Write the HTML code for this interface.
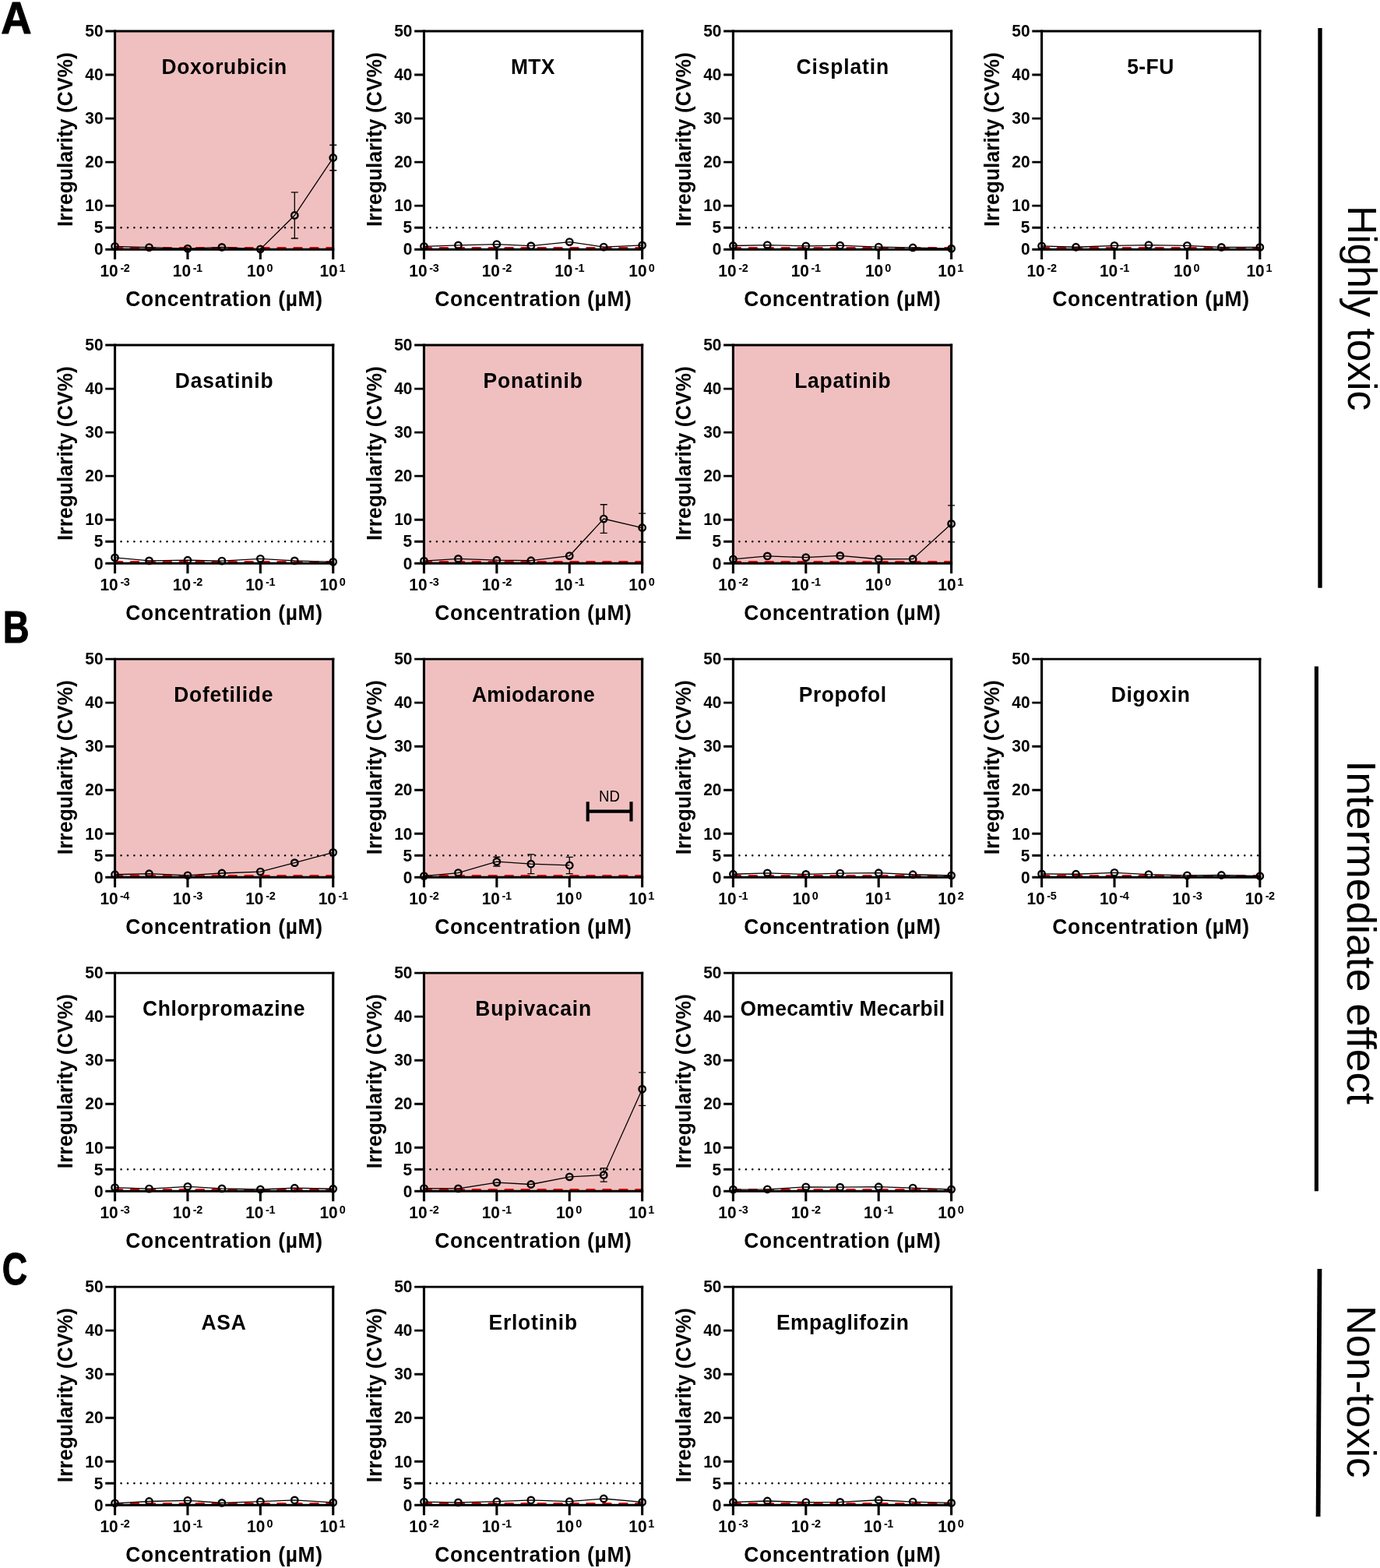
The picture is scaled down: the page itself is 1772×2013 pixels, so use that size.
<!DOCTYPE html>
<html lang="en"><head><meta charset="utf-8"><title>Irregularity (CV%) vs Concentration</title>
<style>
html,body{margin:0;padding:0;background:#fff;}
body{width:1772px;height:2013px;overflow:hidden;}
svg{display:block;}
text{font-family:"Liberation Sans", Arial, Helvetica, sans-serif;fill:#000;white-space:pre;}
.tk{font-weight:bold;font-size:22.3px;}
.sp{font-weight:bold;font-size:15.5px;}
.tt{font-weight:bold;font-size:28px;}
.nd{font-size:20px;}
.av{fill:none;stroke:#000;stroke-width:3.1;}
.ah{fill:none;stroke:#000;stroke-width:2.9;}
.ln{fill:none;stroke:#000;stroke-width:1.3;}
.mk{fill:none;stroke:#000;stroke-width:2.4;}
.dot{fill:none;stroke:#000;stroke-width:2.55;stroke-linecap:round;stroke-dasharray:0.01 8.41;}
.red{fill:none;stroke:#d90000;stroke-width:3;stroke-linecap:round;stroke-dasharray:9.66 11.29;}
.side{font-size:52px;}
.pl{font-weight:bold;font-size:58.2px;}
</style></head><body>
<svg xmlns="http://www.w3.org/2000/svg" width="1772" height="2013" viewBox="0 0 1772 2013">
<rect x="0" y="0" width="1772" height="2013" fill="#fff"/>
<g>
<rect x="147.55" y="40" width="280.2" height="280.2" fill="#f0c0c0"/>
<path class="dot" d="M147.15 292.18H427.75"/>
<path class="red" d="M147.2 318.4H427.75"/>
<path class="ah" d="M146 40H429.3M146 320.2H429.3M135.25 320.2H147.55M135.25 292.18H147.55M135.25 264.16H147.55M135.25 208.12H147.55M135.25 152.08H147.55M135.25 96.04H147.55M135.25 40H147.55"/>
<path class="av" d="M147.55 38.55V321.65M427.75 38.55V321.65M147.55 320.2V333.1M240.95 320.2V333.1M334.35 320.2V333.1M427.75 320.2V333.1"/>
<path class="ln" d="M147.55 316.33L191.51 317.57L240.95 319.14L284.91 317.4L334.35 319.86L378.31 276.49L427.75 202.52"/>
<path class="ln" d="M378.31 246.96V271.39M378.31 281.59V306.02M373.81 246.96H382.81M373.81 306.02H382.81M427.75 186.26V197.42M427.75 207.62V218.77M423.25 186.26H432.25M423.25 218.77H432.25"/>
<circle class="mk" cx="147.55" cy="316.33" r="4.2"/>
<circle class="mk" cx="191.51" cy="317.57" r="4.2"/>
<circle class="mk" cx="240.95" cy="319.14" r="4.2"/>
<circle class="mk" cx="284.91" cy="317.4" r="4.2"/>
<circle class="mk" cx="334.35" cy="319.86" r="4.2"/>
<circle class="mk" cx="378.31" cy="276.49" r="4.2"/>
<circle class="mk" cx="427.75" cy="202.52" r="4.2"/>
<text class="tk" transform="translate(120.92 327.45) scale(0.9386 1)">0</text>
<text class="tk" transform="translate(120.64 299.43) scale(0.9386 1)">5</text>
<text class="tk" transform="translate(109.28 271.41) scale(0.9386 1)">10</text>
<text class="tk" transform="translate(109.28 215.37) scale(0.9386 1)">20</text>
<text class="tk" transform="translate(109.28 159.33) scale(0.9386 1)">30</text>
<text class="tk" transform="translate(109.28 103.29) scale(0.9386 1)">40</text>
<text class="tk" transform="translate(109.28 47.25) scale(0.9386 1)">50</text>
<text class="tk" transform="translate(128.43 355.1) scale(0.9386 1)">10</text>
<text class="sp" transform="translate(154.46 349) scale(0.93 1)" letter-spacing="-0.43">-2</text>
<text class="tk" transform="translate(221.83 355.1) scale(0.9386 1)">10</text>
<text class="sp" transform="translate(247.68 349) scale(0.93 1)" letter-spacing="-0.43">-1</text>
<text class="tk" transform="translate(317.03 355.1) scale(0.9386 1)">10</text>
<text class="sp" transform="translate(342.38 349) scale(0.93 1)">0</text>
<text class="tk" transform="translate(410.43 355.1) scale(0.9386 1)">10</text>
<text class="sp" transform="translate(435.44 349) scale(0.93 1)">1</text>
<text class="tt" transform="translate(161.31 392.6) scale(0.943 1)" letter-spacing="0.73">Concentration (µM)</text>
<text class="tt" transform="translate(93.15 291.04) rotate(-90) scale(0.943 1)" letter-spacing="0.06">Irregularity (CV%)</text>
<text class="tt" transform="translate(207.48 94.75) scale(0.943 1)" letter-spacing="0.71">Doxorubicin</text>
</g>
<g>
<path class="dot" d="M544.05 292.18H824.65"/>
<path class="red" d="M544.1 318.4H824.65"/>
<path class="ah" d="M542.9 40H826.2M542.9 320.2H826.2M532.15 320.2H544.45M532.15 292.18H544.45M532.15 264.16H544.45M532.15 208.12H544.45M532.15 152.08H544.45M532.15 96.04H544.45M532.15 40H544.45"/>
<path class="av" d="M544.45 38.55V321.65M824.65 38.55V321.65M544.45 320.2V333.1M637.85 320.2V333.1M731.25 320.2V333.1M824.65 320.2V333.1"/>
<path class="ln" d="M544.45 316.33L588.41 314.93L637.85 313.53L681.81 315.66L731.25 310.56L775.21 317.06L824.65 314.93"/>
<circle class="mk" cx="544.45" cy="316.33" r="4.2"/>
<circle class="mk" cx="588.41" cy="314.93" r="4.2"/>
<circle class="mk" cx="637.85" cy="313.53" r="4.2"/>
<circle class="mk" cx="681.81" cy="315.66" r="4.2"/>
<circle class="mk" cx="731.25" cy="310.56" r="4.2"/>
<circle class="mk" cx="775.21" cy="317.06" r="4.2"/>
<circle class="mk" cx="824.65" cy="314.93" r="4.2"/>
<text class="tk" transform="translate(517.82 327.45) scale(0.9386 1)">0</text>
<text class="tk" transform="translate(517.54 299.43) scale(0.9386 1)">5</text>
<text class="tk" transform="translate(506.18 271.41) scale(0.9386 1)">10</text>
<text class="tk" transform="translate(506.18 215.37) scale(0.9386 1)">20</text>
<text class="tk" transform="translate(506.18 159.33) scale(0.9386 1)">30</text>
<text class="tk" transform="translate(506.18 103.29) scale(0.9386 1)">40</text>
<text class="tk" transform="translate(506.18 47.25) scale(0.9386 1)">50</text>
<text class="tk" transform="translate(525.33 355.1) scale(0.9386 1)">10</text>
<text class="sp" transform="translate(551.3 349) scale(0.93 1)" letter-spacing="-0.43">-3</text>
<text class="tk" transform="translate(618.73 355.1) scale(0.9386 1)">10</text>
<text class="sp" transform="translate(644.76 349) scale(0.93 1)" letter-spacing="-0.43">-2</text>
<text class="tk" transform="translate(712.13 355.1) scale(0.9386 1)">10</text>
<text class="sp" transform="translate(737.98 349) scale(0.93 1)" letter-spacing="-0.43">-1</text>
<text class="tk" transform="translate(807.33 355.1) scale(0.9386 1)">10</text>
<text class="sp" transform="translate(832.68 349) scale(0.93 1)">0</text>
<text class="tt" transform="translate(558.21 392.6) scale(0.943 1)" letter-spacing="0.73">Concentration (µM)</text>
<text class="tt" transform="translate(490.05 291.04) rotate(-90) scale(0.943 1)" letter-spacing="0.06">Irregularity (CV%)</text>
<text class="tt" transform="translate(655.88 94.75) scale(0.943 1)" letter-spacing="0.46">MTX</text>
</g>
<g>
<path class="dot" d="M941 292.18H1221.6"/>
<path class="red" d="M941.05 318.4H1221.6"/>
<path class="ah" d="M939.85 40H1223.15M939.85 320.2H1223.15M929.1 320.2H941.4M929.1 292.18H941.4M929.1 264.16H941.4M929.1 208.12H941.4M929.1 152.08H941.4M929.1 96.04H941.4M929.1 40H941.4"/>
<path class="av" d="M941.4 38.55V321.65M1221.6 38.55V321.65M941.4 320.2V333.1M1034.8 320.2V333.1M1128.2 320.2V333.1M1221.6 320.2V333.1"/>
<path class="ln" d="M941.4 315.49L985.36 314.6L1034.8 315.83L1078.76 315.16L1128.2 317.06L1172.16 317.96L1221.6 319.14"/>
<circle class="mk" cx="941.4" cy="315.49" r="4.2"/>
<circle class="mk" cx="985.36" cy="314.6" r="4.2"/>
<circle class="mk" cx="1034.8" cy="315.83" r="4.2"/>
<circle class="mk" cx="1078.76" cy="315.16" r="4.2"/>
<circle class="mk" cx="1128.2" cy="317.06" r="4.2"/>
<circle class="mk" cx="1172.16" cy="317.96" r="4.2"/>
<circle class="mk" cx="1221.6" cy="319.14" r="4.2"/>
<text class="tk" transform="translate(914.77 327.45) scale(0.9386 1)">0</text>
<text class="tk" transform="translate(914.49 299.43) scale(0.9386 1)">5</text>
<text class="tk" transform="translate(903.13 271.41) scale(0.9386 1)">10</text>
<text class="tk" transform="translate(903.13 215.37) scale(0.9386 1)">20</text>
<text class="tk" transform="translate(903.13 159.33) scale(0.9386 1)">30</text>
<text class="tk" transform="translate(903.13 103.29) scale(0.9386 1)">40</text>
<text class="tk" transform="translate(903.13 47.25) scale(0.9386 1)">50</text>
<text class="tk" transform="translate(922.28 355.1) scale(0.9386 1)">10</text>
<text class="sp" transform="translate(948.31 349) scale(0.93 1)" letter-spacing="-0.43">-2</text>
<text class="tk" transform="translate(1015.68 355.1) scale(0.9386 1)">10</text>
<text class="sp" transform="translate(1041.53 349) scale(0.93 1)" letter-spacing="-0.43">-1</text>
<text class="tk" transform="translate(1110.88 355.1) scale(0.9386 1)">10</text>
<text class="sp" transform="translate(1136.23 349) scale(0.93 1)">0</text>
<text class="tk" transform="translate(1204.28 355.1) scale(0.9386 1)">10</text>
<text class="sp" transform="translate(1229.29 349) scale(0.93 1)">1</text>
<text class="tt" transform="translate(955.16 392.6) scale(0.943 1)" letter-spacing="0.73">Concentration (µM)</text>
<text class="tt" transform="translate(887 291.04) rotate(-90) scale(0.943 1)" letter-spacing="0.06">Irregularity (CV%)</text>
<text class="tt" transform="translate(1022.57 94.75) scale(0.943 1)" letter-spacing="0.93">Cisplatin</text>
</g>
<g>
<path class="dot" d="M1337.2 292.18H1617.8"/>
<path class="red" d="M1337.25 318.4H1617.8"/>
<path class="ah" d="M1336.05 40H1619.35M1336.05 320.2H1619.35M1325.3 320.2H1337.6M1325.3 292.18H1337.6M1325.3 264.16H1337.6M1325.3 208.12H1337.6M1325.3 152.08H1337.6M1325.3 96.04H1337.6M1325.3 40H1337.6"/>
<path class="av" d="M1337.6 38.55V321.65M1617.8 38.55V321.65M1337.6 320.2V333.1M1431 320.2V333.1M1524.4 320.2V333.1M1617.8 320.2V333.1"/>
<path class="ln" d="M1337.6 315.83L1381.56 317.23L1431 315.3L1474.96 314.6L1524.4 315.3L1568.36 317.4L1617.8 317.4"/>
<circle class="mk" cx="1337.6" cy="315.83" r="4.2"/>
<circle class="mk" cx="1381.56" cy="317.23" r="4.2"/>
<circle class="mk" cx="1431" cy="315.3" r="4.2"/>
<circle class="mk" cx="1474.96" cy="314.6" r="4.2"/>
<circle class="mk" cx="1524.4" cy="315.3" r="4.2"/>
<circle class="mk" cx="1568.36" cy="317.4" r="4.2"/>
<circle class="mk" cx="1617.8" cy="317.4" r="4.2"/>
<text class="tk" transform="translate(1310.97 327.45) scale(0.9386 1)">0</text>
<text class="tk" transform="translate(1310.69 299.43) scale(0.9386 1)">5</text>
<text class="tk" transform="translate(1299.33 271.41) scale(0.9386 1)">10</text>
<text class="tk" transform="translate(1299.33 215.37) scale(0.9386 1)">20</text>
<text class="tk" transform="translate(1299.33 159.33) scale(0.9386 1)">30</text>
<text class="tk" transform="translate(1299.33 103.29) scale(0.9386 1)">40</text>
<text class="tk" transform="translate(1299.33 47.25) scale(0.9386 1)">50</text>
<text class="tk" transform="translate(1318.48 355.1) scale(0.9386 1)">10</text>
<text class="sp" transform="translate(1344.51 349) scale(0.93 1)" letter-spacing="-0.43">-2</text>
<text class="tk" transform="translate(1411.88 355.1) scale(0.9386 1)">10</text>
<text class="sp" transform="translate(1437.73 349) scale(0.93 1)" letter-spacing="-0.43">-1</text>
<text class="tk" transform="translate(1507.08 355.1) scale(0.9386 1)">10</text>
<text class="sp" transform="translate(1532.43 349) scale(0.93 1)">0</text>
<text class="tk" transform="translate(1600.48 355.1) scale(0.9386 1)">10</text>
<text class="sp" transform="translate(1625.49 349) scale(0.93 1)">1</text>
<text class="tt" transform="translate(1351.36 392.6) scale(0.943 1)" letter-spacing="0.73">Concentration (µM)</text>
<text class="tt" transform="translate(1283.2 291.04) rotate(-90) scale(0.943 1)" letter-spacing="0.06">Irregularity (CV%)</text>
<text class="tt" transform="translate(1447.14 94.75) scale(0.943 1)" letter-spacing="0.51">5-FU</text>
</g>
<g>
<path class="dot" d="M147.15 695.23H427.75"/>
<path class="red" d="M147.2 721.45H427.75"/>
<path class="ah" d="M146 443.05H429.3M146 723.25H429.3M135.25 723.25H147.55M135.25 695.23H147.55M135.25 667.21H147.55M135.25 611.17H147.55M135.25 555.13H147.55M135.25 499.09H147.55M135.25 443.05H147.55"/>
<path class="av" d="M147.55 441.6V724.7M427.75 441.6V724.7M147.55 723.25V736.15M240.95 723.25V736.15M334.35 723.25V736.15M427.75 723.25V736.15"/>
<path class="ln" d="M147.55 715.91L191.51 719.89L240.95 719.22L284.91 720.11L334.35 717.31L378.31 719.89L427.75 721.34"/>
<circle class="mk" cx="147.55" cy="715.91" r="4.2"/>
<circle class="mk" cx="191.51" cy="719.89" r="4.2"/>
<circle class="mk" cx="240.95" cy="719.22" r="4.2"/>
<circle class="mk" cx="284.91" cy="720.11" r="4.2"/>
<circle class="mk" cx="334.35" cy="717.31" r="4.2"/>
<circle class="mk" cx="378.31" cy="719.89" r="4.2"/>
<circle class="mk" cx="427.75" cy="721.34" r="4.2"/>
<text class="tk" transform="translate(120.92 730.5) scale(0.9386 1)">0</text>
<text class="tk" transform="translate(120.64 702.48) scale(0.9386 1)">5</text>
<text class="tk" transform="translate(109.28 674.46) scale(0.9386 1)">10</text>
<text class="tk" transform="translate(109.28 618.42) scale(0.9386 1)">20</text>
<text class="tk" transform="translate(109.28 562.38) scale(0.9386 1)">30</text>
<text class="tk" transform="translate(109.28 506.34) scale(0.9386 1)">40</text>
<text class="tk" transform="translate(109.28 450.3) scale(0.9386 1)">50</text>
<text class="tk" transform="translate(128.43 758.15) scale(0.9386 1)">10</text>
<text class="sp" transform="translate(154.4 752.05) scale(0.93 1)" letter-spacing="-0.43">-3</text>
<text class="tk" transform="translate(221.83 758.15) scale(0.9386 1)">10</text>
<text class="sp" transform="translate(247.86 752.05) scale(0.93 1)" letter-spacing="-0.43">-2</text>
<text class="tk" transform="translate(315.23 758.15) scale(0.9386 1)">10</text>
<text class="sp" transform="translate(341.08 752.05) scale(0.93 1)" letter-spacing="-0.43">-1</text>
<text class="tk" transform="translate(410.43 758.15) scale(0.9386 1)">10</text>
<text class="sp" transform="translate(435.78 752.05) scale(0.93 1)">0</text>
<text class="tt" transform="translate(161.31 795.65) scale(0.943 1)" letter-spacing="0.73">Concentration (µM)</text>
<text class="tt" transform="translate(93.15 694.09) rotate(-90) scale(0.943 1)" letter-spacing="0.06">Irregularity (CV%)</text>
<text class="tt" transform="translate(224.78 497.8) scale(0.943 1)" letter-spacing="0.92">Dasatinib</text>
</g>
<g>
<rect x="544.45" y="443.05" width="280.2" height="280.2" fill="#f0c0c0"/>
<path class="dot" d="M544.05 695.23H824.65"/>
<path class="red" d="M544.1 721.45H824.65"/>
<path class="ah" d="M542.9 443.05H826.2M542.9 723.25H826.2M532.15 723.25H544.45M532.15 695.23H544.45M532.15 667.21H544.45M532.15 611.17H544.45M532.15 555.13H544.45M532.15 499.09H544.45M532.15 443.05H544.45"/>
<path class="av" d="M544.45 441.6V724.7M824.65 441.6V724.7M544.45 723.25V736.15M637.85 723.25V736.15M731.25 723.25V736.15M824.65 723.25V736.15"/>
<path class="ln" d="M544.45 720.06L588.41 717.42L637.85 719.16L681.81 719.72L731.25 713.56L775.21 666.09L824.65 677.52"/>
<path class="ln" d="M775.21 647.76V660.99M775.21 671.19V684.41M770.71 647.76H779.71M770.71 684.41H779.71M824.65 659.03V672.42M824.65 682.62V696.01M820.15 659.03H829.15M820.15 696.01H829.15"/>
<circle class="mk" cx="544.45" cy="720.06" r="4.2"/>
<circle class="mk" cx="588.41" cy="717.42" r="4.2"/>
<circle class="mk" cx="637.85" cy="719.16" r="4.2"/>
<circle class="mk" cx="681.81" cy="719.72" r="4.2"/>
<circle class="mk" cx="731.25" cy="713.56" r="4.2"/>
<circle class="mk" cx="775.21" cy="666.09" r="4.2"/>
<circle class="mk" cx="824.65" cy="677.52" r="4.2"/>
<text class="tk" transform="translate(517.82 730.5) scale(0.9386 1)">0</text>
<text class="tk" transform="translate(517.54 702.48) scale(0.9386 1)">5</text>
<text class="tk" transform="translate(506.18 674.46) scale(0.9386 1)">10</text>
<text class="tk" transform="translate(506.18 618.42) scale(0.9386 1)">20</text>
<text class="tk" transform="translate(506.18 562.38) scale(0.9386 1)">30</text>
<text class="tk" transform="translate(506.18 506.34) scale(0.9386 1)">40</text>
<text class="tk" transform="translate(506.18 450.3) scale(0.9386 1)">50</text>
<text class="tk" transform="translate(525.33 758.15) scale(0.9386 1)">10</text>
<text class="sp" transform="translate(551.3 752.05) scale(0.93 1)" letter-spacing="-0.43">-3</text>
<text class="tk" transform="translate(618.73 758.15) scale(0.9386 1)">10</text>
<text class="sp" transform="translate(644.76 752.05) scale(0.93 1)" letter-spacing="-0.43">-2</text>
<text class="tk" transform="translate(712.13 758.15) scale(0.9386 1)">10</text>
<text class="sp" transform="translate(737.98 752.05) scale(0.93 1)" letter-spacing="-0.43">-1</text>
<text class="tk" transform="translate(807.33 758.15) scale(0.9386 1)">10</text>
<text class="sp" transform="translate(832.68 752.05) scale(0.93 1)">0</text>
<text class="tt" transform="translate(558.21 795.65) scale(0.943 1)" letter-spacing="0.73">Concentration (µM)</text>
<text class="tt" transform="translate(490.05 694.09) rotate(-90) scale(0.943 1)" letter-spacing="0.06">Irregularity (CV%)</text>
<text class="tt" transform="translate(620.58 497.8) scale(0.943 1)" letter-spacing="0.92">Ponatinib</text>
</g>
<g>
<rect x="941.4" y="443.05" width="280.2" height="280.2" fill="#f0c0c0"/>
<path class="dot" d="M941 695.23H1221.6"/>
<path class="red" d="M941.05 721.45H1221.6"/>
<path class="ah" d="M939.85 443.05H1223.15M939.85 723.25H1223.15M929.1 723.25H941.4M929.1 695.23H941.4M929.1 667.21H941.4M929.1 611.17H941.4M929.1 555.13H941.4M929.1 499.09H941.4M929.1 443.05H941.4"/>
<path class="av" d="M941.4 441.6V724.7M1221.6 441.6V724.7M941.4 723.25V736.15M1034.8 723.25V736.15M1128.2 723.25V736.15M1221.6 723.25V736.15"/>
<path class="ln" d="M941.4 717.93L985.36 713.89L1034.8 715.68L1078.76 713.39L1128.2 717.76L1172.16 717.65L1221.6 672.42"/>
<path class="ln" d="M1221.6 648.88V667.32M1221.6 677.52V695.96M1217.1 648.88H1226.1M1217.1 695.96H1226.1"/>
<circle class="mk" cx="941.4" cy="717.93" r="4.2"/>
<circle class="mk" cx="985.36" cy="713.89" r="4.2"/>
<circle class="mk" cx="1034.8" cy="715.68" r="4.2"/>
<circle class="mk" cx="1078.76" cy="713.39" r="4.2"/>
<circle class="mk" cx="1128.2" cy="717.76" r="4.2"/>
<circle class="mk" cx="1172.16" cy="717.65" r="4.2"/>
<circle class="mk" cx="1221.6" cy="672.42" r="4.2"/>
<text class="tk" transform="translate(914.77 730.5) scale(0.9386 1)">0</text>
<text class="tk" transform="translate(914.49 702.48) scale(0.9386 1)">5</text>
<text class="tk" transform="translate(903.13 674.46) scale(0.9386 1)">10</text>
<text class="tk" transform="translate(903.13 618.42) scale(0.9386 1)">20</text>
<text class="tk" transform="translate(903.13 562.38) scale(0.9386 1)">30</text>
<text class="tk" transform="translate(903.13 506.34) scale(0.9386 1)">40</text>
<text class="tk" transform="translate(903.13 450.3) scale(0.9386 1)">50</text>
<text class="tk" transform="translate(922.28 758.15) scale(0.9386 1)">10</text>
<text class="sp" transform="translate(948.31 752.05) scale(0.93 1)" letter-spacing="-0.43">-2</text>
<text class="tk" transform="translate(1015.68 758.15) scale(0.9386 1)">10</text>
<text class="sp" transform="translate(1041.53 752.05) scale(0.93 1)" letter-spacing="-0.43">-1</text>
<text class="tk" transform="translate(1110.88 758.15) scale(0.9386 1)">10</text>
<text class="sp" transform="translate(1136.23 752.05) scale(0.93 1)">0</text>
<text class="tk" transform="translate(1204.28 758.15) scale(0.9386 1)">10</text>
<text class="sp" transform="translate(1229.29 752.05) scale(0.93 1)">1</text>
<text class="tt" transform="translate(955.16 795.65) scale(0.943 1)" letter-spacing="0.73">Concentration (µM)</text>
<text class="tt" transform="translate(887 694.09) rotate(-90) scale(0.943 1)" letter-spacing="0.06">Irregularity (CV%)</text>
<text class="tt" transform="translate(1020.18 497.8) scale(0.943 1)" letter-spacing="0.81">Lapatinib</text>
</g>
<g>
<rect x="147.55" y="846.1" width="280.2" height="280.2" fill="#f0c0c0"/>
<path class="dot" d="M147.15 1098.28H427.75"/>
<path class="red" d="M147.2 1124.5H427.75"/>
<path class="ah" d="M146 846.1H429.3M146 1126.3H429.3M135.25 1126.3H147.55M135.25 1098.28H147.55M135.25 1070.26H147.55M135.25 1014.22H147.55M135.25 958.18H147.55M135.25 902.14H147.55M135.25 846.1H147.55"/>
<path class="av" d="M147.55 844.65V1127.75M427.75 844.65V1127.75M147.55 1126.3V1139.2M240.95 1126.3V1139.2M334.35 1126.3V1139.2M427.75 1126.3V1139.2"/>
<path class="ln" d="M147.55 1122.77L191.51 1121.7L240.95 1123.78L284.91 1120.98L334.35 1119.07L378.31 1107.69L427.75 1094.36"/>
<circle class="mk" cx="147.55" cy="1122.77" r="4.2"/>
<circle class="mk" cx="191.51" cy="1121.7" r="4.2"/>
<circle class="mk" cx="240.95" cy="1123.78" r="4.2"/>
<circle class="mk" cx="284.91" cy="1120.98" r="4.2"/>
<circle class="mk" cx="334.35" cy="1119.07" r="4.2"/>
<circle class="mk" cx="378.31" cy="1107.69" r="4.2"/>
<circle class="mk" cx="427.75" cy="1094.36" r="4.2"/>
<text class="tk" transform="translate(120.92 1133.55) scale(0.9386 1)">0</text>
<text class="tk" transform="translate(120.64 1105.53) scale(0.9386 1)">5</text>
<text class="tk" transform="translate(109.28 1077.51) scale(0.9386 1)">10</text>
<text class="tk" transform="translate(109.28 1021.47) scale(0.9386 1)">20</text>
<text class="tk" transform="translate(109.28 965.43) scale(0.9386 1)">30</text>
<text class="tk" transform="translate(109.28 909.39) scale(0.9386 1)">40</text>
<text class="tk" transform="translate(109.28 853.35) scale(0.9386 1)">50</text>
<text class="tk" transform="translate(128.43 1161.2) scale(0.9386 1)">10</text>
<text class="sp" transform="translate(153.96 1155.1) scale(0.93 1)" letter-spacing="-0.43">-4</text>
<text class="tk" transform="translate(221.83 1161.2) scale(0.9386 1)">10</text>
<text class="sp" transform="translate(247.8 1155.1) scale(0.93 1)" letter-spacing="-0.43">-3</text>
<text class="tk" transform="translate(315.23 1161.2) scale(0.9386 1)">10</text>
<text class="sp" transform="translate(341.26 1155.1) scale(0.93 1)" letter-spacing="-0.43">-2</text>
<text class="tk" transform="translate(408.63 1161.2) scale(0.9386 1)">10</text>
<text class="sp" transform="translate(434.48 1155.1) scale(0.93 1)" letter-spacing="-0.43">-1</text>
<text class="tt" transform="translate(161.31 1198.7) scale(0.943 1)" letter-spacing="0.73">Concentration (µM)</text>
<text class="tt" transform="translate(93.15 1097.14) rotate(-90) scale(0.943 1)" letter-spacing="0.06">Irregularity (CV%)</text>
<text class="tt" transform="translate(223.28 900.85) scale(0.943 1)" letter-spacing="0.8">Dofetilide</text>
</g>
<g>
<rect x="544.45" y="846.1" width="280.2" height="280.2" fill="#f0c0c0"/>
<path class="dot" d="M544.05 1098.28H824.65"/>
<path class="red" d="M544.1 1124.5H824.65"/>
<path class="ah" d="M542.9 846.1H826.2M542.9 1126.3H826.2M532.15 1126.3H544.45M532.15 1098.28H544.45M532.15 1070.26H544.45M532.15 1014.22H544.45M532.15 958.18H544.45M532.15 902.14H544.45M532.15 846.1H544.45"/>
<path class="av" d="M544.45 844.65V1127.75M824.65 844.65V1127.75M544.45 1126.3V1139.2M637.85 1126.3V1139.2M731.25 1126.3V1139.2M824.65 1126.3V1139.2"/>
<path class="ln" d="M544.45 1124.62L588.41 1120.58L637.85 1106.13L681.81 1109.21L731.25 1110.95"/>
<path class="ln" d="M637.85 1100.24V1101.03M637.85 1111.23V1112.01M633.35 1100.24H642.35M633.35 1112.01H642.35M681.81 1096.88V1104.11M681.81 1114.31V1121.54M677.31 1096.88H686.31M677.31 1121.54H686.31M731.25 1100.3V1105.85M731.25 1116.05V1121.59M726.75 1100.3H735.75M726.75 1121.59H735.75"/>
<circle class="mk" cx="544.45" cy="1124.62" r="4.2"/>
<circle class="mk" cx="588.41" cy="1120.58" r="4.2"/>
<circle class="mk" cx="637.85" cy="1106.13" r="4.2"/>
<circle class="mk" cx="681.81" cy="1109.21" r="4.2"/>
<circle class="mk" cx="731.25" cy="1110.95" r="4.2"/>
<text class="tk" transform="translate(517.82 1133.55) scale(0.9386 1)">0</text>
<text class="tk" transform="translate(517.54 1105.53) scale(0.9386 1)">5</text>
<text class="tk" transform="translate(506.18 1077.51) scale(0.9386 1)">10</text>
<text class="tk" transform="translate(506.18 1021.47) scale(0.9386 1)">20</text>
<text class="tk" transform="translate(506.18 965.43) scale(0.9386 1)">30</text>
<text class="tk" transform="translate(506.18 909.39) scale(0.9386 1)">40</text>
<text class="tk" transform="translate(506.18 853.35) scale(0.9386 1)">50</text>
<text class="tk" transform="translate(525.33 1161.2) scale(0.9386 1)">10</text>
<text class="sp" transform="translate(551.36 1155.1) scale(0.93 1)" letter-spacing="-0.43">-2</text>
<text class="tk" transform="translate(618.73 1161.2) scale(0.9386 1)">10</text>
<text class="sp" transform="translate(644.58 1155.1) scale(0.93 1)" letter-spacing="-0.43">-1</text>
<text class="tk" transform="translate(713.93 1161.2) scale(0.9386 1)">10</text>
<text class="sp" transform="translate(739.28 1155.1) scale(0.93 1)">0</text>
<text class="tk" transform="translate(807.33 1161.2) scale(0.9386 1)">10</text>
<text class="sp" transform="translate(832.34 1155.1) scale(0.93 1)">1</text>
<text class="tt" transform="translate(558.21 1198.7) scale(0.943 1)" letter-spacing="0.73">Concentration (µM)</text>
<text class="tt" transform="translate(490.05 1097.14) rotate(-90) scale(0.943 1)" letter-spacing="0.06">Irregularity (CV%)</text>
<text class="tt" transform="translate(605.89 900.85) scale(0.943 1)" letter-spacing="0.44">Amiodarone</text>
<path d="M754.7 1041.65H810.5M754.7 1029.15V1054.55M810.5 1029.15V1054.55" fill="none" stroke="#000" stroke-width="4.1"/>
<text class="nd" transform="translate(768.9 1029.4) scale(0.93 1)" letter-spacing="0.32">ND</text>
</g>
<g>
<path class="dot" d="M941 1098.28H1221.6"/>
<path class="red" d="M941.05 1124.5H1221.6"/>
<path class="ah" d="M939.85 846.1H1223.15M939.85 1126.3H1223.15M929.1 1126.3H941.4M929.1 1098.28H941.4M929.1 1070.26H941.4M929.1 1014.22H941.4M929.1 958.18H941.4M929.1 902.14H941.4M929.1 846.1H941.4"/>
<path class="av" d="M941.4 844.65V1127.75M1221.6 844.65V1127.75M941.4 1126.3V1139.2M1034.8 1126.3V1139.2M1128.2 1126.3V1139.2M1221.6 1126.3V1139.2"/>
<path class="ln" d="M941.4 1122.27L985.36 1120.86L1034.8 1122.43L1078.76 1121.03L1128.2 1120.7L1172.16 1122.77L1221.6 1124"/>
<circle class="mk" cx="941.4" cy="1122.27" r="4.2"/>
<circle class="mk" cx="985.36" cy="1120.86" r="4.2"/>
<circle class="mk" cx="1034.8" cy="1122.43" r="4.2"/>
<circle class="mk" cx="1078.76" cy="1121.03" r="4.2"/>
<circle class="mk" cx="1128.2" cy="1120.7" r="4.2"/>
<circle class="mk" cx="1172.16" cy="1122.77" r="4.2"/>
<circle class="mk" cx="1221.6" cy="1124" r="4.2"/>
<text class="tk" transform="translate(914.77 1133.55) scale(0.9386 1)">0</text>
<text class="tk" transform="translate(914.49 1105.53) scale(0.9386 1)">5</text>
<text class="tk" transform="translate(903.13 1077.51) scale(0.9386 1)">10</text>
<text class="tk" transform="translate(903.13 1021.47) scale(0.9386 1)">20</text>
<text class="tk" transform="translate(903.13 965.43) scale(0.9386 1)">30</text>
<text class="tk" transform="translate(903.13 909.39) scale(0.9386 1)">40</text>
<text class="tk" transform="translate(903.13 853.35) scale(0.9386 1)">50</text>
<text class="tk" transform="translate(922.28 1161.2) scale(0.9386 1)">10</text>
<text class="sp" transform="translate(948.13 1155.1) scale(0.93 1)" letter-spacing="-0.43">-1</text>
<text class="tk" transform="translate(1017.48 1161.2) scale(0.9386 1)">10</text>
<text class="sp" transform="translate(1042.83 1155.1) scale(0.93 1)">0</text>
<text class="tk" transform="translate(1110.88 1161.2) scale(0.9386 1)">10</text>
<text class="sp" transform="translate(1135.89 1155.1) scale(0.93 1)">1</text>
<text class="tk" transform="translate(1204.28 1161.2) scale(0.9386 1)">10</text>
<text class="sp" transform="translate(1229.7 1155.1) scale(0.93 1)">2</text>
<text class="tt" transform="translate(955.16 1198.7) scale(0.943 1)" letter-spacing="0.73">Concentration (µM)</text>
<text class="tt" transform="translate(887 1097.14) rotate(-90) scale(0.943 1)" letter-spacing="0.06">Irregularity (CV%)</text>
<text class="tt" transform="translate(1025.78 900.85) scale(0.943 1)" letter-spacing="0.58">Propofol</text>
</g>
<g>
<path class="dot" d="M1337.2 1098.28H1617.8"/>
<path class="red" d="M1337.25 1124.5H1617.8"/>
<path class="ah" d="M1336.05 846.1H1619.35M1336.05 1126.3H1619.35M1325.3 1126.3H1337.6M1325.3 1098.28H1337.6M1325.3 1070.26H1337.6M1325.3 1014.22H1337.6M1325.3 958.18H1337.6M1325.3 902.14H1337.6M1325.3 846.1H1337.6"/>
<path class="av" d="M1337.6 844.65V1127.75M1617.8 844.65V1127.75M1337.6 1126.3V1139.2M1431 1126.3V1139.2M1524.4 1126.3V1139.2M1617.8 1126.3V1139.2"/>
<path class="ln" d="M1337.6 1121.93L1381.56 1122.27L1431 1120.36L1474.96 1122.6L1524.4 1123.83L1568.36 1123.5L1617.8 1124.73"/>
<circle class="mk" cx="1337.6" cy="1121.93" r="4.2"/>
<circle class="mk" cx="1381.56" cy="1122.27" r="4.2"/>
<circle class="mk" cx="1431" cy="1120.36" r="4.2"/>
<circle class="mk" cx="1474.96" cy="1122.6" r="4.2"/>
<circle class="mk" cx="1524.4" cy="1123.83" r="4.2"/>
<circle class="mk" cx="1568.36" cy="1123.5" r="4.2"/>
<circle class="mk" cx="1617.8" cy="1124.73" r="4.2"/>
<text class="tk" transform="translate(1310.97 1133.55) scale(0.9386 1)">0</text>
<text class="tk" transform="translate(1310.69 1105.53) scale(0.9386 1)">5</text>
<text class="tk" transform="translate(1299.33 1077.51) scale(0.9386 1)">10</text>
<text class="tk" transform="translate(1299.33 1021.47) scale(0.9386 1)">20</text>
<text class="tk" transform="translate(1299.33 965.43) scale(0.9386 1)">30</text>
<text class="tk" transform="translate(1299.33 909.39) scale(0.9386 1)">40</text>
<text class="tk" transform="translate(1299.33 853.35) scale(0.9386 1)">50</text>
<text class="tk" transform="translate(1318.48 1161.2) scale(0.9386 1)">10</text>
<text class="sp" transform="translate(1344.33 1155.1) scale(0.93 1)" letter-spacing="-0.43">-5</text>
<text class="tk" transform="translate(1411.88 1161.2) scale(0.9386 1)">10</text>
<text class="sp" transform="translate(1437.41 1155.1) scale(0.93 1)" letter-spacing="-0.43">-4</text>
<text class="tk" transform="translate(1505.28 1161.2) scale(0.9386 1)">10</text>
<text class="sp" transform="translate(1531.25 1155.1) scale(0.93 1)" letter-spacing="-0.43">-3</text>
<text class="tk" transform="translate(1598.68 1161.2) scale(0.9386 1)">10</text>
<text class="sp" transform="translate(1624.71 1155.1) scale(0.93 1)" letter-spacing="-0.43">-2</text>
<text class="tt" transform="translate(1351.36 1198.7) scale(0.943 1)" letter-spacing="0.73">Concentration (µM)</text>
<text class="tt" transform="translate(1283.2 1097.14) rotate(-90) scale(0.943 1)" letter-spacing="0.06">Irregularity (CV%)</text>
<text class="tt" transform="translate(1426.78 900.85) scale(0.943 1)" letter-spacing="0.76">Digoxin</text>
</g>
<g>
<path class="dot" d="M147.15 1501.28H427.75"/>
<path class="red" d="M147.2 1527.5H427.75"/>
<path class="ah" d="M146 1249.1H429.3M146 1529.3H429.3M135.25 1529.3H147.55M135.25 1501.28H147.55M135.25 1473.26H147.55M135.25 1417.22H147.55M135.25 1361.18H147.55M135.25 1305.14H147.55M135.25 1249.1H147.55"/>
<path class="av" d="M147.55 1247.65V1530.75M427.75 1247.65V1530.75M147.55 1529.3V1542.2M240.95 1529.3V1542.2M334.35 1529.3V1542.2M427.75 1529.3V1542.2"/>
<path class="ln" d="M147.55 1524.54L191.51 1526.11L240.95 1523.3L284.91 1525.94L334.35 1527L378.31 1525.21L427.75 1526.27"/>
<circle class="mk" cx="147.55" cy="1524.54" r="4.2"/>
<circle class="mk" cx="191.51" cy="1526.11" r="4.2"/>
<circle class="mk" cx="240.95" cy="1523.3" r="4.2"/>
<circle class="mk" cx="284.91" cy="1525.94" r="4.2"/>
<circle class="mk" cx="334.35" cy="1527" r="4.2"/>
<circle class="mk" cx="378.31" cy="1525.21" r="4.2"/>
<circle class="mk" cx="427.75" cy="1526.27" r="4.2"/>
<text class="tk" transform="translate(120.92 1536.55) scale(0.9386 1)">0</text>
<text class="tk" transform="translate(120.64 1508.53) scale(0.9386 1)">5</text>
<text class="tk" transform="translate(109.28 1480.51) scale(0.9386 1)">10</text>
<text class="tk" transform="translate(109.28 1424.47) scale(0.9386 1)">20</text>
<text class="tk" transform="translate(109.28 1368.43) scale(0.9386 1)">30</text>
<text class="tk" transform="translate(109.28 1312.39) scale(0.9386 1)">40</text>
<text class="tk" transform="translate(109.28 1256.35) scale(0.9386 1)">50</text>
<text class="tk" transform="translate(128.43 1564.2) scale(0.9386 1)">10</text>
<text class="sp" transform="translate(154.4 1558.1) scale(0.93 1)" letter-spacing="-0.43">-3</text>
<text class="tk" transform="translate(221.83 1564.2) scale(0.9386 1)">10</text>
<text class="sp" transform="translate(247.86 1558.1) scale(0.93 1)" letter-spacing="-0.43">-2</text>
<text class="tk" transform="translate(315.23 1564.2) scale(0.9386 1)">10</text>
<text class="sp" transform="translate(341.08 1558.1) scale(0.93 1)" letter-spacing="-0.43">-1</text>
<text class="tk" transform="translate(410.43 1564.2) scale(0.9386 1)">10</text>
<text class="sp" transform="translate(435.78 1558.1) scale(0.93 1)">0</text>
<text class="tt" transform="translate(161.31 1601.7) scale(0.943 1)" letter-spacing="0.73">Concentration (µM)</text>
<text class="tt" transform="translate(93.15 1500.14) rotate(-90) scale(0.943 1)" letter-spacing="0.06">Irregularity (CV%)</text>
<text class="tt" transform="translate(183.07 1303.85) scale(0.943 1)" letter-spacing="0.61">Chlorpromazine</text>
</g>
<g>
<rect x="544.45" y="1249.1" width="280.2" height="280.2" fill="#f0c0c0"/>
<path class="dot" d="M544.05 1501.28H824.65"/>
<path class="red" d="M544.1 1527.5H824.65"/>
<path class="ah" d="M542.9 1249.1H826.2M542.9 1529.3H826.2M532.15 1529.3H544.45M532.15 1501.28H544.45M532.15 1473.26H544.45M532.15 1417.22H544.45M532.15 1361.18H544.45M532.15 1305.14H544.45M532.15 1249.1H544.45"/>
<path class="av" d="M544.45 1247.65V1530.75M824.65 1247.65V1530.75M544.45 1529.3V1542.2M637.85 1529.3V1542.2M731.25 1529.3V1542.2M824.65 1529.3V1542.2"/>
<path class="ln" d="M544.45 1525.55L588.41 1525.94L637.85 1518.09L681.81 1520.5L731.25 1510.86L775.21 1508.4L824.65 1398.17"/>
<path class="ln" d="M775.21 1499.65V1503.3M775.21 1513.5V1517.14M770.71 1499.65H779.71M770.71 1517.14H779.71M824.65 1376.87V1393.07M824.65 1403.27V1419.46M820.15 1376.87H829.15M820.15 1419.46H829.15"/>
<circle class="mk" cx="544.45" cy="1525.55" r="4.2"/>
<circle class="mk" cx="588.41" cy="1525.94" r="4.2"/>
<circle class="mk" cx="637.85" cy="1518.09" r="4.2"/>
<circle class="mk" cx="681.81" cy="1520.5" r="4.2"/>
<circle class="mk" cx="731.25" cy="1510.86" r="4.2"/>
<circle class="mk" cx="775.21" cy="1508.4" r="4.2"/>
<circle class="mk" cx="824.65" cy="1398.17" r="4.2"/>
<text class="tk" transform="translate(517.82 1536.55) scale(0.9386 1)">0</text>
<text class="tk" transform="translate(517.54 1508.53) scale(0.9386 1)">5</text>
<text class="tk" transform="translate(506.18 1480.51) scale(0.9386 1)">10</text>
<text class="tk" transform="translate(506.18 1424.47) scale(0.9386 1)">20</text>
<text class="tk" transform="translate(506.18 1368.43) scale(0.9386 1)">30</text>
<text class="tk" transform="translate(506.18 1312.39) scale(0.9386 1)">40</text>
<text class="tk" transform="translate(506.18 1256.35) scale(0.9386 1)">50</text>
<text class="tk" transform="translate(525.33 1564.2) scale(0.9386 1)">10</text>
<text class="sp" transform="translate(551.36 1558.1) scale(0.93 1)" letter-spacing="-0.43">-2</text>
<text class="tk" transform="translate(618.73 1564.2) scale(0.9386 1)">10</text>
<text class="sp" transform="translate(644.58 1558.1) scale(0.93 1)" letter-spacing="-0.43">-1</text>
<text class="tk" transform="translate(713.93 1564.2) scale(0.9386 1)">10</text>
<text class="sp" transform="translate(739.28 1558.1) scale(0.93 1)">0</text>
<text class="tk" transform="translate(807.33 1564.2) scale(0.9386 1)">10</text>
<text class="sp" transform="translate(832.34 1558.1) scale(0.93 1)">1</text>
<text class="tt" transform="translate(558.21 1601.7) scale(0.943 1)" letter-spacing="0.73">Concentration (µM)</text>
<text class="tt" transform="translate(490.05 1500.14) rotate(-90) scale(0.943 1)" letter-spacing="0.06">Irregularity (CV%)</text>
<text class="tt" transform="translate(610.28 1303.85) scale(0.943 1)" letter-spacing="0.95">Bupivacain</text>
</g>
<g>
<path class="dot" d="M941 1501.28H1221.6"/>
<path class="red" d="M941.05 1527.5H1221.6"/>
<path class="ah" d="M939.85 1249.1H1223.15M939.85 1529.3H1223.15M929.1 1529.3H941.4M929.1 1501.28H941.4M929.1 1473.26H941.4M929.1 1417.22H941.4M929.1 1361.18H941.4M929.1 1305.14H941.4M929.1 1249.1H941.4"/>
<path class="av" d="M941.4 1247.65V1530.75M1221.6 1247.65V1530.75M941.4 1529.3V1542.2M1034.8 1529.3V1542.2M1128.2 1529.3V1542.2M1221.6 1529.3V1542.2"/>
<path class="ln" d="M941.4 1527.11L985.36 1526.78L1034.8 1523.81L1078.76 1524.14L1128.2 1523.7L1172.16 1525.04L1221.6 1526.95"/>
<circle class="mk" cx="941.4" cy="1527.11" r="4.2"/>
<circle class="mk" cx="985.36" cy="1526.78" r="4.2"/>
<circle class="mk" cx="1034.8" cy="1523.81" r="4.2"/>
<circle class="mk" cx="1078.76" cy="1524.14" r="4.2"/>
<circle class="mk" cx="1128.2" cy="1523.7" r="4.2"/>
<circle class="mk" cx="1172.16" cy="1525.04" r="4.2"/>
<circle class="mk" cx="1221.6" cy="1526.95" r="4.2"/>
<text class="tk" transform="translate(914.77 1536.55) scale(0.9386 1)">0</text>
<text class="tk" transform="translate(914.49 1508.53) scale(0.9386 1)">5</text>
<text class="tk" transform="translate(903.13 1480.51) scale(0.9386 1)">10</text>
<text class="tk" transform="translate(903.13 1424.47) scale(0.9386 1)">20</text>
<text class="tk" transform="translate(903.13 1368.43) scale(0.9386 1)">30</text>
<text class="tk" transform="translate(903.13 1312.39) scale(0.9386 1)">40</text>
<text class="tk" transform="translate(903.13 1256.35) scale(0.9386 1)">50</text>
<text class="tk" transform="translate(922.28 1564.2) scale(0.9386 1)">10</text>
<text class="sp" transform="translate(948.25 1558.1) scale(0.93 1)" letter-spacing="-0.43">-3</text>
<text class="tk" transform="translate(1015.68 1564.2) scale(0.9386 1)">10</text>
<text class="sp" transform="translate(1041.71 1558.1) scale(0.93 1)" letter-spacing="-0.43">-2</text>
<text class="tk" transform="translate(1109.08 1564.2) scale(0.9386 1)">10</text>
<text class="sp" transform="translate(1134.93 1558.1) scale(0.93 1)" letter-spacing="-0.43">-1</text>
<text class="tk" transform="translate(1204.28 1564.2) scale(0.9386 1)">10</text>
<text class="sp" transform="translate(1229.63 1558.1) scale(0.93 1)">0</text>
<text class="tt" transform="translate(955.16 1601.7) scale(0.943 1)" letter-spacing="0.73">Concentration (µM)</text>
<text class="tt" transform="translate(887 1500.14) rotate(-90) scale(0.943 1)" letter-spacing="0.06">Irregularity (CV%)</text>
<text class="tt" transform="translate(950.47 1303.85) scale(0.943 1)" letter-spacing="0.36">Omecamtiv Mecarbil</text>
</g>
<g>
<path class="dot" d="M147.15 1904.28H427.75"/>
<path class="red" d="M147.2 1930.5H427.75"/>
<path class="ah" d="M146 1652.1H429.3M146 1932.3H429.3M135.25 1932.3H147.55M135.25 1904.28H147.55M135.25 1876.26H147.55M135.25 1820.22H147.55M135.25 1764.18H147.55M135.25 1708.14H147.55M135.25 1652.1H147.55"/>
<path class="av" d="M147.55 1650.65V1933.75M427.75 1650.65V1933.75M147.55 1932.3V1945.2M240.95 1932.3V1945.2M334.35 1932.3V1945.2M427.75 1932.3V1945.2"/>
<path class="ln" d="M147.55 1929.78L191.51 1927.48L240.95 1926.3L284.91 1929.44L334.35 1927.7L378.31 1925.91L427.75 1928.94"/>
<circle class="mk" cx="147.55" cy="1929.78" r="4.2"/>
<circle class="mk" cx="191.51" cy="1927.48" r="4.2"/>
<circle class="mk" cx="240.95" cy="1926.3" r="4.2"/>
<circle class="mk" cx="284.91" cy="1929.44" r="4.2"/>
<circle class="mk" cx="334.35" cy="1927.7" r="4.2"/>
<circle class="mk" cx="378.31" cy="1925.91" r="4.2"/>
<circle class="mk" cx="427.75" cy="1928.94" r="4.2"/>
<text class="tk" transform="translate(120.92 1939.55) scale(0.9386 1)">0</text>
<text class="tk" transform="translate(120.64 1911.53) scale(0.9386 1)">5</text>
<text class="tk" transform="translate(109.28 1883.51) scale(0.9386 1)">10</text>
<text class="tk" transform="translate(109.28 1827.47) scale(0.9386 1)">20</text>
<text class="tk" transform="translate(109.28 1771.43) scale(0.9386 1)">30</text>
<text class="tk" transform="translate(109.28 1715.39) scale(0.9386 1)">40</text>
<text class="tk" transform="translate(109.28 1659.35) scale(0.9386 1)">50</text>
<text class="tk" transform="translate(128.43 1967.2) scale(0.9386 1)">10</text>
<text class="sp" transform="translate(154.46 1961.1) scale(0.93 1)" letter-spacing="-0.43">-2</text>
<text class="tk" transform="translate(221.83 1967.2) scale(0.9386 1)">10</text>
<text class="sp" transform="translate(247.68 1961.1) scale(0.93 1)" letter-spacing="-0.43">-1</text>
<text class="tk" transform="translate(317.03 1967.2) scale(0.9386 1)">10</text>
<text class="sp" transform="translate(342.38 1961.1) scale(0.93 1)">0</text>
<text class="tk" transform="translate(410.43 1967.2) scale(0.9386 1)">10</text>
<text class="sp" transform="translate(435.44 1961.1) scale(0.93 1)">1</text>
<text class="tt" transform="translate(161.31 2004.7) scale(0.943 1)" letter-spacing="0.73">Concentration (µM)</text>
<text class="tt" transform="translate(93.15 1903.14) rotate(-90) scale(0.943 1)" letter-spacing="0.06">Irregularity (CV%)</text>
<text class="tt" transform="translate(258.49 1706.85) scale(0.943 1)" letter-spacing="0.85">ASA</text>
</g>
<g>
<path class="dot" d="M544.05 1904.28H824.65"/>
<path class="red" d="M544.1 1930.5H824.65"/>
<path class="ah" d="M542.9 1652.1H826.2M542.9 1932.3H826.2M532.15 1932.3H544.45M532.15 1904.28H544.45M532.15 1876.26H544.45M532.15 1820.22H544.45M532.15 1764.18H544.45M532.15 1708.14H544.45M532.15 1652.1H544.45"/>
<path class="av" d="M544.45 1650.65V1933.75M824.65 1650.65V1933.75M544.45 1932.3V1945.2M637.85 1932.3V1945.2M731.25 1932.3V1945.2M824.65 1932.3V1945.2"/>
<path class="ln" d="M544.45 1928.04L588.41 1928.94L637.85 1927.7L681.81 1925.91L731.25 1927.7L775.21 1924.01L824.65 1928.38"/>
<circle class="mk" cx="544.45" cy="1928.04" r="4.2"/>
<circle class="mk" cx="588.41" cy="1928.94" r="4.2"/>
<circle class="mk" cx="637.85" cy="1927.7" r="4.2"/>
<circle class="mk" cx="681.81" cy="1925.91" r="4.2"/>
<circle class="mk" cx="731.25" cy="1927.7" r="4.2"/>
<circle class="mk" cx="775.21" cy="1924.01" r="4.2"/>
<circle class="mk" cx="824.65" cy="1928.38" r="4.2"/>
<text class="tk" transform="translate(517.82 1939.55) scale(0.9386 1)">0</text>
<text class="tk" transform="translate(517.54 1911.53) scale(0.9386 1)">5</text>
<text class="tk" transform="translate(506.18 1883.51) scale(0.9386 1)">10</text>
<text class="tk" transform="translate(506.18 1827.47) scale(0.9386 1)">20</text>
<text class="tk" transform="translate(506.18 1771.43) scale(0.9386 1)">30</text>
<text class="tk" transform="translate(506.18 1715.39) scale(0.9386 1)">40</text>
<text class="tk" transform="translate(506.18 1659.35) scale(0.9386 1)">50</text>
<text class="tk" transform="translate(525.33 1967.2) scale(0.9386 1)">10</text>
<text class="sp" transform="translate(551.36 1961.1) scale(0.93 1)" letter-spacing="-0.43">-2</text>
<text class="tk" transform="translate(618.73 1967.2) scale(0.9386 1)">10</text>
<text class="sp" transform="translate(644.58 1961.1) scale(0.93 1)" letter-spacing="-0.43">-1</text>
<text class="tk" transform="translate(713.93 1967.2) scale(0.9386 1)">10</text>
<text class="sp" transform="translate(739.28 1961.1) scale(0.93 1)">0</text>
<text class="tk" transform="translate(807.33 1967.2) scale(0.9386 1)">10</text>
<text class="sp" transform="translate(832.34 1961.1) scale(0.93 1)">1</text>
<text class="tt" transform="translate(558.21 2004.7) scale(0.943 1)" letter-spacing="0.73">Concentration (µM)</text>
<text class="tt" transform="translate(490.05 1903.14) rotate(-90) scale(0.943 1)" letter-spacing="0.06">Irregularity (CV%)</text>
<text class="tt" transform="translate(627.48 1706.85) scale(0.943 1)" letter-spacing="0.86">Erlotinib</text>
</g>
<g>
<path class="dot" d="M941 1904.28H1221.6"/>
<path class="red" d="M941.05 1930.5H1221.6"/>
<path class="ah" d="M939.85 1652.1H1223.15M939.85 1932.3H1223.15M929.1 1932.3H941.4M929.1 1904.28H941.4M929.1 1876.26H941.4M929.1 1820.22H941.4M929.1 1764.18H941.4M929.1 1708.14H941.4M929.1 1652.1H941.4"/>
<path class="av" d="M941.4 1650.65V1933.75M1221.6 1650.65V1933.75M941.4 1932.3V1945.2M1034.8 1932.3V1945.2M1128.2 1932.3V1945.2M1221.6 1932.3V1945.2"/>
<path class="ln" d="M941.4 1928.38L985.36 1926.98L1034.8 1928.55L1078.76 1928.38L1128.2 1925.74L1172.16 1928.04L1221.6 1929.44"/>
<circle class="mk" cx="941.4" cy="1928.38" r="4.2"/>
<circle class="mk" cx="985.36" cy="1926.98" r="4.2"/>
<circle class="mk" cx="1034.8" cy="1928.55" r="4.2"/>
<circle class="mk" cx="1078.76" cy="1928.38" r="4.2"/>
<circle class="mk" cx="1128.2" cy="1925.74" r="4.2"/>
<circle class="mk" cx="1172.16" cy="1928.04" r="4.2"/>
<circle class="mk" cx="1221.6" cy="1929.44" r="4.2"/>
<text class="tk" transform="translate(914.77 1939.55) scale(0.9386 1)">0</text>
<text class="tk" transform="translate(914.49 1911.53) scale(0.9386 1)">5</text>
<text class="tk" transform="translate(903.13 1883.51) scale(0.9386 1)">10</text>
<text class="tk" transform="translate(903.13 1827.47) scale(0.9386 1)">20</text>
<text class="tk" transform="translate(903.13 1771.43) scale(0.9386 1)">30</text>
<text class="tk" transform="translate(903.13 1715.39) scale(0.9386 1)">40</text>
<text class="tk" transform="translate(903.13 1659.35) scale(0.9386 1)">50</text>
<text class="tk" transform="translate(922.28 1967.2) scale(0.9386 1)">10</text>
<text class="sp" transform="translate(948.25 1961.1) scale(0.93 1)" letter-spacing="-0.43">-3</text>
<text class="tk" transform="translate(1015.68 1967.2) scale(0.9386 1)">10</text>
<text class="sp" transform="translate(1041.71 1961.1) scale(0.93 1)" letter-spacing="-0.43">-2</text>
<text class="tk" transform="translate(1109.08 1967.2) scale(0.9386 1)">10</text>
<text class="sp" transform="translate(1134.93 1961.1) scale(0.93 1)" letter-spacing="-0.43">-1</text>
<text class="tk" transform="translate(1204.28 1967.2) scale(0.9386 1)">10</text>
<text class="sp" transform="translate(1229.63 1961.1) scale(0.93 1)">0</text>
<text class="tt" transform="translate(955.16 2004.7) scale(0.943 1)" letter-spacing="0.73">Concentration (µM)</text>
<text class="tt" transform="translate(887 1903.14) rotate(-90) scale(0.943 1)" letter-spacing="0.06">Irregularity (CV%)</text>
<text class="tt" transform="translate(996.98 1706.85) scale(0.943 1)" letter-spacing="0.54">Empaglifozin</text>
</g>
<text class="pl" transform="translate(1.34 43.25) scale(0.9373 1)" stroke="#000" stroke-width="1" stroke-linejoin="round">A</text>
<text class="pl" transform="translate(3.77 824.5) scale(0.8044 1)" stroke="#000" stroke-width="1" stroke-linejoin="round">B</text>
<text class="pl" transform="translate(2.71 1649.2) scale(0.7713 1)" stroke="#000" stroke-width="1" stroke-linejoin="round">C</text>
<path d="M1695 36V754.7" stroke="#000" stroke-width="5.35" fill="none"/>
<path d="M1690.4 855.5V1529.2" stroke="#000" stroke-width="5.1" fill="none"/>
<path d="M1694.45 1629L1692.6 1947" stroke="#000" stroke-width="5.8" fill="none"/>
<text class="side" transform="translate(1730.5 263.98) rotate(90) scale(0.9903 1)">Highly toxic</text>
<text class="side" transform="translate(1729.8 976.37) rotate(90) scale(1.0277 1)">Intermediate effect</text>
<text class="side" transform="translate(1729.7 1675.95) rotate(90) scale(1.0077 1)">Non-toxic</text>
</svg>
</body></html>
